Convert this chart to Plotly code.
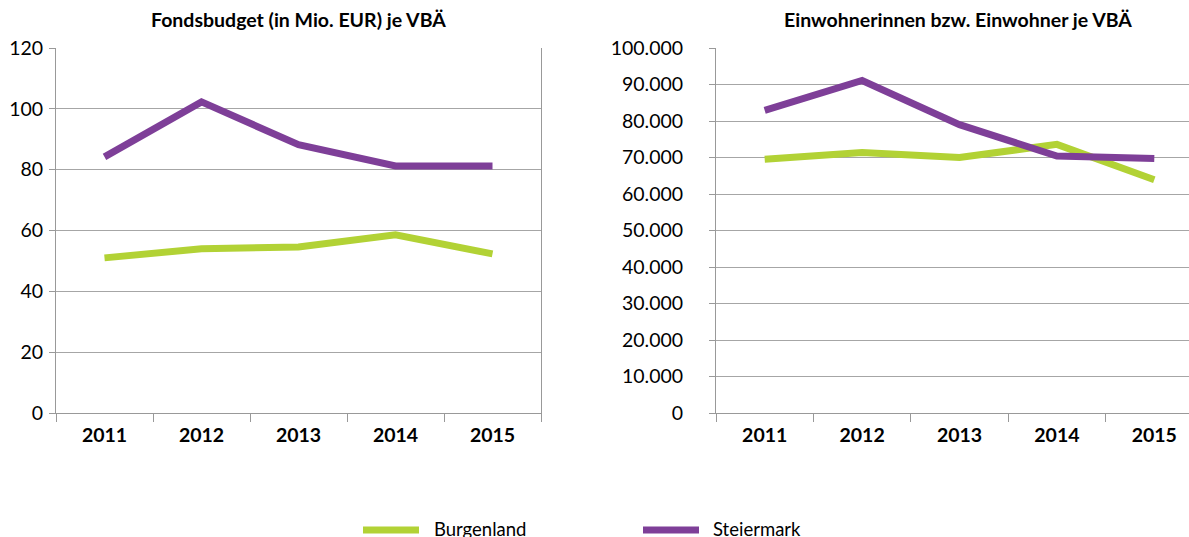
import plotly.graph_objects as go

years = ["2011", "2012", "2013", "2014", "2015"]
budget_burgenland = [51.0, 54.0, 54.6, 58.6, 52.3]
budget_steiermark = [84.2, 102.3, 88.2, 81.2, 81.2]
pop_burgenland = [69500, 71400, 70000, 73600, 63900]
pop_steiermark = [82900, 91100, 79000, 70400, 69700]

series_names = ["Burgenland", "Steiermark"]
colors = ["#b2d235", "#7e3f98"]
titles = ["Fondsbudget (in Mio. EUR) je VBÄ", "Einwohnerinnen bzw. Einwohner je VBÄ"]

FONT = "Lato"
W, H = 1189, 537

fig = go.Figure()

for vals, name, col in zip([budget_burgenland, budget_steiermark], series_names, colors):
    fig.add_trace(go.Scatter(x=years, y=vals, name=name, mode="lines",
                             line=dict(color=col, width=7),
                             xaxis="x", yaxis="y", showlegend=False))
for vals, name, col in zip([pop_burgenland, pop_steiermark], series_names, colors):
    fig.add_trace(go.Scatter(x=years, y=vals, name=name, mode="lines",
                             line=dict(color=col, width=7),
                             xaxis="x2", yaxis="y2", showlegend=False))

top_px, bot_px = 48, 413
ydom = [1 - bot_px / H, 1 - top_px / H]
grid = "#a6a6a6"
axcol = "#999999"

xcommon = dict(type="category", tickson="boundaries", ticks="outside", ticklen=8,
               tickcolor=axcol, showline=True, linecolor=axcol, linewidth=1,
               showgrid=False, zeroline=False, automargin=False, ticklabelstandoff=5,
               tickfont=dict(family=FONT, size=19.5, color="#000000", weight="bold"))
ycommon = dict(ticks="outside", ticklen=6, tickcolor=axcol, showline=True,
               linecolor=axcol, linewidth=1, showgrid=True, gridcolor=grid,
               gridwidth=1, zeroline=False, automargin=False,
               tickfont=dict(family=FONT, size=19.5, color="#000000"))

# manual legend (swatches + labels), as in the reference
legend_swatch_x = [(363, 419), (643, 699)]
legend_text_x = [432, 711]
legend_y = 530
shapes = []
annotations = []
for (x0, x1), tx, name, col in zip(legend_swatch_x, legend_text_x, series_names, colors):
    shapes.append(dict(type="line", xref="paper", yref="paper",
                       x0=x0 / W, x1=x1 / W, y0=1 - legend_y / H, y1=1 - legend_y / H,
                       line=dict(color=col, width=7)))
    annotations.append(dict(text=name, x=tx / W, y=1 - (legend_y - 1) / H, xref="paper",
                            yref="paper", showarrow=False, xanchor="left",
                            yanchor="middle", font=dict(family=FONT, size=18.5)))

annotations.append(dict(text="<b>" + titles[0] + "</b>", x=298 / W, y=1 - 19 / H,
                        xref="paper", yref="paper", showarrow=False, xanchor="center",
                        yanchor="middle", font=dict(family=FONT, size=19.5)))
annotations.append(dict(text="<b>" + titles[1] + "</b>", x=958 / W, y=1 - 19 / H,
                        xref="paper", yref="paper", showarrow=False, xanchor="center",
                        yanchor="middle", font=dict(family=FONT, size=19.5)))

fig.update_layout(
    template="none",
    width=W, height=H,
    margin=dict(l=0, r=0, t=0, b=0, pad=0),
    paper_bgcolor="white", plot_bgcolor="white",
    separators=",.",
    showlegend=False,
    font=dict(family=FONT, color="#000000"),
    xaxis=dict(domain=[56 / W, 541 / W], range=[-0.5, 4.5], anchor="y", **xcommon),
    yaxis=dict(domain=ydom, range=[0, 120], dtick=20, anchor="x", mirror=True,
               ticklabelstandoff=2, **ycommon),
    xaxis2=dict(domain=[716 / W, 1.0], range=[-0.5, -0.5 + (W - 716) / 97.4],
                anchor="y2", **xcommon),
    yaxis2=dict(domain=ydom, range=[0, 100000], dtick=10000, tickformat=",",
                anchor="x2", ticklabelstandoff=22, **ycommon),
    shapes=shapes,
    annotations=annotations,
)

fig.write_html("out.html",
               config={"displayModeBar": False},
               post_script="document.body.style.margin='0px';document.body.style.overflow='hidden';")
